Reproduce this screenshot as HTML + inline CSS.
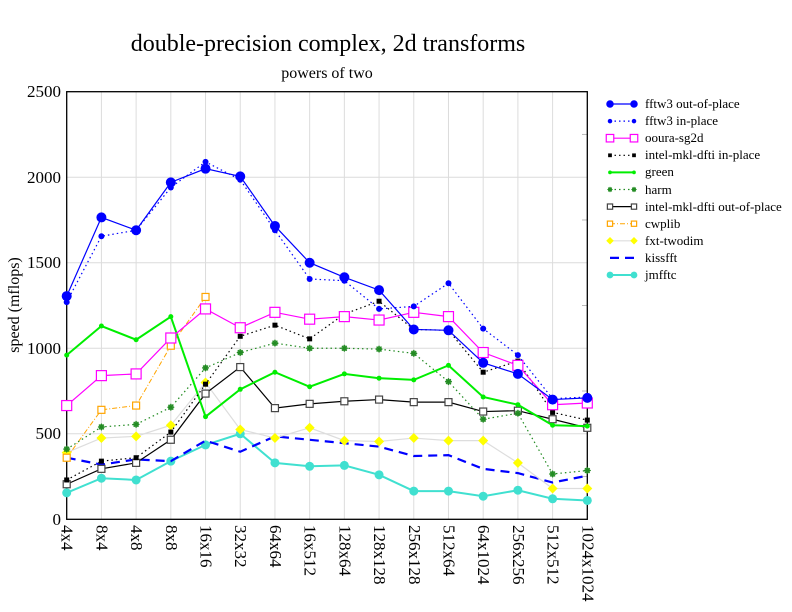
<!DOCTYPE html>
<html><head><meta charset="utf-8"><style>
body{margin:0;background:#fff}
svg{display:block;font-family:"Liberation Serif",serif}
</style></head><body>
<svg id="s" width="792" height="612" viewBox="0 0 792 612" xmlns="http://www.w3.org/2000/svg">
<rect width="792" height="612" fill="#fff"/>
<text x="328" y="51" font-size="24" text-anchor="middle">double-precision complex, 2d transforms</text>
<text x="327" y="78" font-size="16" text-anchor="middle">powers of two</text>
<g id="grid" stroke="#dcdcdc" stroke-width="1"></g>
<rect x="66.7" y="91.7" width="520.6" height="427.6" fill="none" stroke="#000" stroke-width="1.3"/>
<g font-size="17" text-anchor="end">
<text x="61" y="525">0</text><text x="61" y="439">500</text><text x="61" y="354">1000</text>
<text x="61" y="268">1500</text><text x="61" y="183">2000</text><text x="61" y="97">2500</text>
</g>
<text transform="translate(19,305) rotate(-90)" font-size="16" text-anchor="middle">speed (mflops)</text>
<g id="xl" font-size="17"></g>
<g id="series"></g>
<g id="leg" font-size="13"></g>
</svg>
<script>
const NS="http://www.w3.org/2000/svg";
const X0=66.7,DX=34.707,Y0=519.3,K=0.17104;
const cats=["4x4","8x4","4x8","8x8","16x16","32x32","64x64","16x512","128x64","128x128","256x128","512x64","64x1024","256x256","512x512","1024x1024"];
function el(t,a,p){const e=document.createElementNS(NS,t);for(const k in a)e.setAttribute(k,a[k]);p.appendChild(e);return e;}
const g=document.getElementById("grid");
for(let i=1;i<15;i++){el("line",{x1:X0+i*DX,x2:X0+i*DX,y1:91.7,y2:519.3},g);}
for(let v=500;v<2500;v+=500){el("line",{x1:X0,x2:587.3,y1:Y0-v*K,y2:Y0-v*K},g);}
for(let v=250;v<2500;v+=500){el("line",{x1:582,x2:587.3,y1:Y0-v*K,y2:Y0-v*K,stroke:"#bbb"},g);}
const xl=document.getElementById("xl");
cats.forEach((c,i)=>{const t=el("text",{transform:`translate(${X0+i*DX-5},525) rotate(90)`},xl);t.textContent=c;});
const S=[
["fftw3 out-of-place","#0000ff",1.2,"",["circle",5],[1305,1765,1690,1970,2050,2005,1715,1500,1415,1340,1110,1105,915,850,700,710]],
["fftw3 in-place","#0000ff",1.2,"1.5,3",["circle",3],[1270,1655,1690,1940,2090,1985,1690,1405,1395,1230,1245,1380,1115,960,705,715]],
["ooura-sg2d","#ff00ff",1.2,"",["sq",5,"#ff00ff"],[665,840,850,1060,1230,1120,1210,1170,1185,1165,1210,1185,975,900,670,680]],
["intel-mkl-dfti in-place","#000",1.2,"1.5,3",["fsq",2.5],[230,340,360,510,790,1070,1135,1055,1200,1275,1110,1105,860,925,625,580]],
["green","#00ee00",2,"",["circle",2.5],[960,1130,1050,1185,600,760,860,775,850,825,815,900,715,670,550,545]],
["harm","#228b22",1.2,"1.5,3",["star",3.5],[410,540,555,655,885,975,1030,1000,1000,995,970,805,585,620,265,285]],
["intel-mkl-dfti out-of-place","#000",1.2,"",["sq",3.5,"#444"],[205,295,330,465,735,890,650,675,690,700,685,685,630,635,585,535]],
["cwplib","#ffa500",1,"5,2,1,2",["sq",3.5,"#ffa500"],[360,640,665,1015,1300]],
["fxt-twodim","#dddddd",1.2,"",["dia",5],[390,475,485,550,800,525,475,535,460,455,475,460,460,330,180,180]],
["kissfft","#0000ff",2.2,"9,6",null,[360,320,350,340,460,395,485,465,445,425,370,375,295,270,215,255]],
["jmfftc","#40e0d0",2,"",["circle",4.5],[155,240,230,340,435,500,330,310,315,260,165,165,135,170,120,110]]];
const sg=document.getElementById("series"),lg=document.getElementById("leg");
function mark(m,x,y,col,p,sc){if(!m)return;const r=m[1]*(sc||1);
 if(m[0]=="circle")el("circle",{cx:x,cy:y,r:r,fill:col},p);
 else if(m[0]=="sq")el("rect",{x:x-r,y:y-r,width:2*r,height:2*r,fill:"#fff",stroke:m[2],"stroke-width":1.2},p);
 else if(m[0]=="fsq")el("rect",{x:x-r,y:y-r,width:2*r,height:2*r,fill:col},p);
 else if(m[0]=="dia")el("polygon",{points:`${x},${y-r} ${x+r},${y} ${x},${y+r} ${x-r},${y}`,fill:"#ffff00"},p);
 else if(m[0]=="star"){el("circle",{cx:x,cy:y,r:r-0.5,fill:col,opacity:0.8},p);el("path",{d:`M${x-r},${y}H${x+r}M${x},${y-r}V${y+r}M${x-r*.7},${y-r*.7}L${x+r*.7},${y+r*.7}M${x-r*.7},${y+r*.7}L${x+r*.7},${y-r*.7}`,stroke:col,"stroke-width":1},p);}
}
S.slice().reverse().forEach(s=>{
 const pts=s[5].map((v,i)=>[X0+i*DX,Y0-v*K]);
 el("polyline",{points:pts.map(p=>p.join(",")).join(" "),fill:"none",stroke:s[1],"stroke-width":s[2],"stroke-dasharray":s[3]||"none"},sg);
 pts.forEach(p=>mark(s[4],p[0],p[1],s[1],sg));
});
S.forEach((s,i)=>{const y=104+i*17.1;
 el("line",{x1:610,x2:634,y1:y,y2:y,stroke:s[1],"stroke-width":s[2],"stroke-dasharray":s[3]||"none"},lg);
 mark(s[4],610,y,s[1],lg,0.75);mark(s[4],634,y,s[1],lg,0.75);
});
</script>
<svg style="position:absolute;left:0;top:0" width="792" height="612">
<g font-family="Liberation Serif,serif" font-size="13">
<text x="645" y="108">fftw3 out-of-place</text>
<text x="645" y="125">fftw3 in-place</text>
<text x="645" y="142">ooura-sg2d</text>
<text x="645" y="159">intel-mkl-dfti in-place</text>
<text x="645" y="176">green</text>
<text x="645" y="194">harm</text>
<text x="645" y="211">intel-mkl-dfti out-of-place</text>
<text x="645" y="228">cwplib</text>
<text x="645" y="245">fxt-twodim</text>
<text x="645" y="262">kissfft</text>
<text x="645" y="279">jmfftc</text>
</g></svg>
</body></html>
